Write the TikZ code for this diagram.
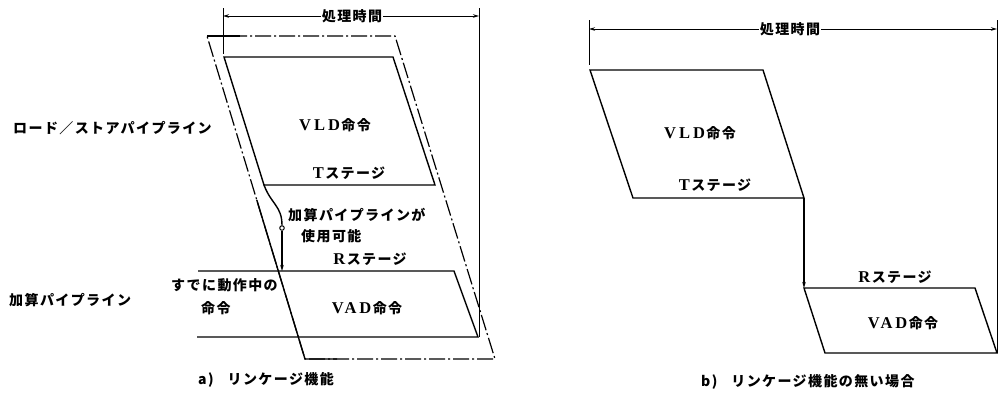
\documentclass[tikz,border=0pt]{standalone}
\usepackage{fontspec}
\setmainfont{Noto Sans CJK JP}[LetterSpace=10]
\newfontfamily\latserif{Liberation Serif}[LetterSpace=18]
\usetikzlibrary{arrows.meta}
\newcommand\lat[1]{{\latserif\bfseries\fontsize{16.5}{18}\selectfont #1\hspace{1.5pt}}}
\begin{document}
\begin{tikzpicture}[x=1pt,y=-1pt,
  shp/.style={line width=1.4pt, line join=miter},
  thinl/.style={line width=1pt},
  ddash/.style={line width=1.2pt, dash pattern=on 16pt off 3pt on 2pt off 3pt},
  arr/.style={-{Stealth[length=6pt,width=3.5pt]}},
  lbl/.style={font=\fontsize{14}{16}\selectfont\bfseries, inner sep=1pt},
  captxt/.style={font=\fontsize{14}{16}\selectfont\bfseries, inner sep=1pt}]
\useasboundingbox (0,0) rectangle (999,397);
% ---------------- left diagram ----------------
\coordinate (LT1) at (223,8);  \coordinate (LT1b) at (223,54);
\coordinate (LT2) at (479,8);  \coordinate (LT2b) at (479,337);
\coordinate (LD1) at (223,16); \coordinate (LD2) at (479,16);
\node[lbl] (ltime) at (352,16) {処理時間};
\draw[thinl] (LT1) -- (LT1b);
\draw[thinl] (LT2) -- (LT2b);
\draw[thinl,arr] (ltime.west) -- (LD1);
\draw[thinl,arr] (ltime.east) -- (LD2);
% outer dash-dot parallelogram
\coordinate (O1) at (207,36); \coordinate (O2) at (395,36);
\coordinate (O3) at (495,359); \coordinate (O4) at (305,359);
\draw[ddash] (O1) -- (O2) -- (O3) -- (O4) -- cycle;
\coordinate (O1s) at (240,36); \coordinate (OLs) at (256.8,200);
\coordinate (O4s) at (337,359);
\draw[shp] (O1) -- (O1s);
\draw[shp] (OLs) -- (O4) -- (O4s);
% VLD
\coordinate (V1) at (224,57); \coordinate (V2) at (393,57);
\coordinate (V3) at (435,185); \coordinate (V4) at (264,185);
\draw[shp] (V1) -- (V2) -- (V3) -- (V4) -- cycle;
% VAD
\coordinate (A0) at (198,271); \coordinate (A2) at (454,271);
\coordinate (A3) at (478,337); \coordinate (A4) at (197,337);
\draw[shp] (A0) -- (A2) -- (A3) -- (A4);
% link
\node[draw, circle, minimum size=4.5pt, inner sep=0pt, line width=1pt, fill=white] (lk) at (282,228) {};
\coordinate (ra) at (282,271);
\draw[shp] (V4) .. controls (271,204) and (282,206) .. (lk.north);
\draw[shp,arr] (lk.south) -- (ra);
% texts
\node[lbl, anchor=west] (ls) at (12,128) {ロード／ストアパイプライン};
\node[lbl, anchor=west] (ap) at (8,300) {加算パイプライン};
\node[lbl] (vld1) at (335,125) {\lat{VLD}命令};
\node[lbl] (ts1) at (349,173) {\lat{T}ステージ};
\node[lbl, anchor=west] (av1) at (287,215) {加算パイプラインが};
\node[lbl, anchor=west] (av2) at (300,236) {使用可能};
\node[lbl] (rs1) at (370,259) {\lat{R}ステージ};
\node[lbl, anchor=west] (al1) at (170,285) {すでに動作中の};
\node[lbl, anchor=west] (al2) at (200,308) {命令};
\node[lbl] (vad1) at (367,308) {\lat{VAD}命令};
\node[captxt, anchor=west] (capa) at (197,380) {a)\quad リンケージ機能};
% ---------------- right diagram ----------------
\coordinate (RT1) at (589,20); \coordinate (RT1b) at (589,65);
\coordinate (RT2) at (997,20); \coordinate (RT2b) at (997,353);
\coordinate (RD1) at (589,29); \coordinate (RD2) at (997,29);
\node[lbl] (rtime) at (790,29) {処理時間};
\draw[thinl] (RT1) -- (RT1b);
\draw[thinl] (RT2) -- (RT2b);
\draw[thinl,arr] (rtime.west) -- (RD1);
\draw[thinl,arr] (rtime.east) -- (RD2);
\coordinate (W1) at (590,70); \coordinate (W2) at (763,70);
\coordinate (W3) at (804,198); \coordinate (W4) at (633,198);
\draw[shp] (W1) -- (W2) -- (W3) -- (W4) -- cycle;
\coordinate (X1) at (804,288); \coordinate (X2) at (975,288);
\coordinate (X3) at (997,353); \coordinate (X4) at (825,353);
\draw[shp] (X1) -- (X2) -- (X3) -- (X4) -- cycle;
\draw[shp,arr] (W3) -- (X1);
\node[lbl] (vld2) at (700,133) {\lat{VLD}命令};
\node[lbl] (ts2) at (715,185) {\lat{T}ステージ};
\node[lbl] (rs2) at (895,277) {\lat{R}ステージ};
\node[lbl] (vad2) at (903,323) {\lat{VAD}命令};
\node[captxt, anchor=west] (capb) at (700,382) {b)\quad リンケージ機能の無い場合};
\end{tikzpicture}
\end{document}
